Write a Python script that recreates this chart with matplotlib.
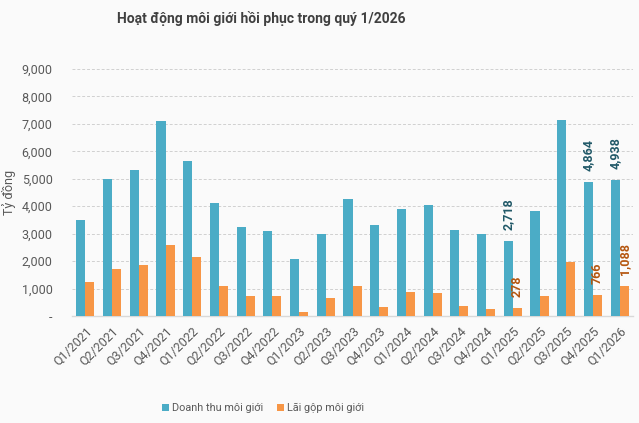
import matplotlib
matplotlib.use('Agg')
import matplotlib.pyplot as plt
import numpy as np

plt.rcParams['font.family'] = ['Roboto', 'DejaVu Sans']

quarters = ['Q1/2021', 'Q2/2021', 'Q3/2021', 'Q4/2021', 'Q1/2022', 'Q2/2022', 'Q3/2022',
            'Q4/2022', 'Q1/2023', 'Q2/2023', 'Q3/2023', 'Q4/2023', 'Q1/2024', 'Q2/2024',
            'Q3/2024', 'Q4/2024', 'Q1/2025', 'Q2/2025', 'Q3/2025', 'Q4/2025', 'Q1/2026']
doanh_thu = [3510, 4990, 5320, 7100, 5630, 4110, 3260, 3110, 2080, 2980, 4250,
             3330, 3880, 4030, 3150, 3000, 2718, 3840, 7130, 4864, 4938]
lai_gop = [1240, 1710, 1860, 2600, 2150, 1080, 720, 720, 160, 640, 1080,
           320, 860, 830, 380, 240, 278, 720, 1980, 766, 1088]
# only these quarters carry value labels
labelled = ['Q1/2025', 'Q4/2025', 'Q1/2026']

blue = '#4BACC6'
orange = '#F79646'
bg = '#FAFAFA'

fig = plt.figure(figsize=(6.39, 4.23), dpi=100, facecolor=bg)
ax = fig.add_axes([0.1127, 0.253, 0.878, 0.584], facecolor=bg)

x = np.arange(len(quarters))
w = 0.34
ax.bar(x - w / 2, doanh_thu, w, color=blue, label='Doanh thu môi giới', zorder=3)
ax.bar(x + w / 2, lai_gop, w, color=orange, label='Lãi gộp môi giới', zorder=3)

for i, q in enumerate(quarters):
    if q in labelled:
        ax.annotate(f'{doanh_thu[i]:,}', (x[i] - w / 2, doanh_thu[i]), xytext=(0, 8),
                    textcoords='offset points', rotation=90, ha='center', va='bottom',
                    fontsize=9, fontweight='bold', color='#215968')
        ax.annotate(f'{lai_gop[i]:,}', (x[i] + w / 2, lai_gop[i]), xytext=(0, 8),
                    textcoords='offset points', rotation=90, ha='center', va='bottom',
                    fontsize=9, fontweight='bold', color='#B5560F')

ax.set_xlim(-0.5, len(quarters) - 0.5)
ax.set_ylim(0, 9000)
yt = np.arange(0, 9001, 1000)
ax.set_yticks(yt)
ax.set_yticklabels(['-'] + [f'{v:,}' for v in yt[1:]])
ax.set_xticks(x)
ax.set_xticklabels(quarters, rotation=45, ha='right', rotation_mode='anchor')
ax.tick_params(axis='both', length=0, colors='#595959', labelsize=9)
ax.tick_params(axis='y', pad=14)
ax.tick_params(axis='x', pad=6)

ax.grid(axis='y', color='#D0D0D0', linestyle=(0, (3, 2)), linewidth=0.7, zorder=0)
for s in ['top', 'right', 'left']:
    ax.spines[s].set_visible(False)
ax.spines['bottom'].set_color('#D9D9D9')
ax.spines['bottom'].set_linewidth(1.0)

ax.set_ylabel('Tỷ đồng', color='#595959', fontsize=9, labelpad=4)

fig.suptitle('Hoạt động môi giới hồi phục trong quý 1/2026', x=0.409, y=0.975,
             fontsize=10, fontweight='bold', color='#404040')

fig.legend(loc='center', bbox_to_anchor=(0.412, 0.035), ncol=2, frameon=False,
           fontsize=7.8, handlelength=0.6, handleheight=0.6, handletextpad=0.3,
           columnspacing=1.3, labelcolor='#595959')

fig.savefig('out.png', dpi=100, facecolor=bg)
